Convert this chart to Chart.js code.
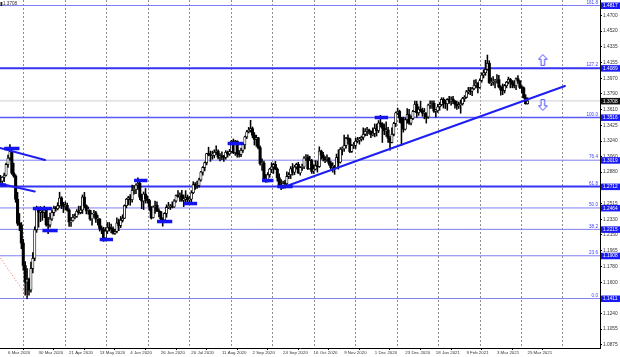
<!DOCTYPE html>
<html><head><meta charset="utf-8">
<script src="https://cdn.jsdelivr.net/npm/chart.js@4.4.1/dist/chart.umd.min.js"></script>
<style>html,body{margin:0;padding:0;background:#fff;overflow:hidden}</style>
</head><body>
<canvas id="c" width="620" height="357" style="display:block;width:620px;height:357px"></canvas>
<script>
// ---- daily GBPUSD candles, 2 Mar 2020 .. 25 Mar 2021 (bar index 0..276) ----
const openP = [
1.2820,1.2775,1.2820,1.2845,1.2970,1.3045,1.3120,1.2870,1.2835,1.2565,1.2285,1.2265,1.2055,1.1795,1.1600,1.1635,1.1510,1.1760,1.1880,1.2210,1.2460,1.2415,
1.2420,1.2410,1.2440,1.2270,1.2265,1.2335,1.2410,1.2460,1.2455,1.2490,1.2580,1.2505,1.2480,1.2495,1.2440,1.2300,1.2315,1.2355,1.2365,1.2425,1.2410,1.2440,
1.2590,1.2490,1.2435,1.2435,1.2335,1.2395,1.2405,1.2335,1.2335,1.2225,1.2210,1.2115,1.2195,1.2240,1.2225,1.2220,1.2170,1.2190,1.2290,1.2260,1.2320,
1.2345,1.2490,1.2565,1.2585,1.2560,1.2670,1.2675,1.2730,1.2750,1.2590,1.2545,1.2625,1.2570,1.2550,1.2475,1.2350,1.2475,1.2495,1.2430,1.2420,1.2335,1.2325,
1.2400,1.2470,1.2475,1.2485,1.2475,1.2545,1.2610,1.2595,1.2615,1.2555,1.2565,1.2585,1.2560,1.2565,1.2640,1.2735,1.2725,1.2725,1.2790,1.2880,1.2935,1.2990,1.3095,
1.3085,1.3075,1.3075,1.3110,1.3125,1.3055,1.3070,1.3055,1.3050,1.3110,1.3090,1.3120,1.3240,1.3105,1.3240,1.3090,1.3085,1.3135,1.3200,1.3290,1.3350,
1.3370,1.3385,1.3310,1.3260,1.3280,1.3165,1.2980,1.2985,1.2795,1.2795,1.2850,1.2915,1.2940,1.2970,1.2915,1.2815,1.2730,1.2725,1.2750,1.2745,1.2830,1.2850,
1.2920,1.2880,1.2940,1.2970,1.2870,1.2935,1.2940,1.3045,1.3055,1.2920,1.3015,1.2890,1.2915,1.2955,1.2945,1.3125,1.3080,1.3045,1.3025,1.3045,1.2985,1.2935,
1.2945,1.2930,1.3050,1.2995,1.3145,1.3150,1.3190,1.3275,1.3265,1.3120,1.3190,1.3190,1.3240,1.3255,1.3265,1.3285,1.3320,1.3355,1.3370,1.3355,1.3315,
1.3330,1.3390,1.3365,1.3450,1.3440,1.3390,1.3360,1.3370,1.3275,1.3225,1.3320,1.3445,1.3570,1.3585,1.3510,1.3450,1.3380,1.3490,1.3550,1.3450,1.3505,1.3585,
1.3670,1.3570,1.3610,1.3595,1.3565,1.3565,1.3520,1.3660,1.3665,1.3680,1.3590,1.3595,1.3640,1.3665,1.3725,1.3685,1.3675,1.3725,1.3705,1.3730,
1.3705,1.3670,1.3650,1.3665,1.3675,1.3735,1.3750,1.3815,1.3825,1.3820,1.3850,1.3890,1.3915,1.3865,1.3945,1.4010,1.4035,1.4075,1.4145,1.3920,
1.3925,1.3935,1.3945,1.3955,1.3870,1.3835,1.3830,1.3885,1.3925,1.3960,1.3930,1.3900,1.3885,1.3965,1.3940,1.3865,1.3860,1.3745,1.3675];
const highP = [
1.2842,1.2829,1.2868,1.2986,1.3079,1.3201,1.3146,1.2985,1.2850,1.2645,1.2400,1.2295,1.2100,1.1840,1.1760,1.1650,1.1835,1.1945,1.2245,1.2485,1.2475,1.2480,
1.2440,1.2485,1.2445,1.2355,1.2405,1.2435,1.2485,1.2480,1.2525,1.2647,1.2595,1.2530,1.2535,1.2520,1.2455,1.2355,1.2390,1.2395,1.2445,1.2485,1.2485,1.2615,
1.2645,1.2500,1.2475,1.2440,1.2400,1.2435,1.2425,1.2380,1.2340,1.2255,1.2240,1.2235,1.2295,1.2295,1.2275,1.2245,1.2215,1.2350,1.2335,1.2365,1.2385,
1.2500,1.2575,1.2600,1.2620,1.2730,1.2725,1.2745,1.2813,1.2765,1.2625,1.2650,1.2690,1.2605,1.2565,1.2480,1.2485,1.2545,1.2535,1.2455,1.2425,1.2350,1.2410,
1.2500,1.2530,1.2505,1.2535,1.2560,1.2615,1.2665,1.2640,1.2670,1.2615,1.2665,1.2615,1.2600,1.2665,1.2770,1.2760,1.2775,1.2810,1.2890,1.2945,1.3000,1.3100,1.3170,
1.3125,1.3125,1.3140,1.3185,1.3140,1.3095,1.3115,1.3075,1.3130,1.3125,1.3145,1.3250,1.3265,1.3250,1.3245,1.3130,1.3160,1.3220,1.3300,1.3365,1.3400,
1.3482,1.3405,1.3340,1.3310,1.3285,1.3185,1.3035,1.3010,1.2855,1.2875,1.2925,1.2990,1.2985,1.3005,1.2930,1.2860,1.2795,1.2775,1.2785,1.2885,1.2875,1.2945,
1.2980,1.2960,1.2985,1.2995,1.2945,1.2975,1.3060,1.3085,1.3080,1.3065,1.3030,1.2965,1.3015,1.3010,1.3175,1.3135,1.3110,1.3060,1.3080,1.3050,1.3005,1.2990,
1.2960,1.3090,1.3140,1.3165,1.3175,1.3310,1.3285,1.3315,1.3275,1.3200,1.3225,1.3275,1.3285,1.3285,1.3300,1.3395,1.3385,1.3400,1.3380,1.3360,1.3395,
1.3440,1.3440,1.3480,1.3540,1.3455,1.3440,1.3465,1.3400,1.3295,1.3395,1.3460,1.3580,1.3625,1.3600,1.3515,1.3520,1.3510,1.3620,1.3610,1.3535,1.3600,1.3705,
1.3705,1.3640,1.3705,1.3625,1.3620,1.3570,1.3670,1.3710,1.3710,1.3710,1.3610,1.3670,1.3690,1.3745,1.3745,1.3720,1.3735,1.3760,1.3755,1.3760,
1.3715,1.3705,1.3695,1.3720,1.3750,1.3770,1.3830,1.3865,1.3865,1.3865,1.3950,1.3955,1.3920,1.3965,1.4035,1.4070,1.4180,1.4241,1.4175,1.3975,
1.3990,1.3960,1.4015,1.4005,1.3885,1.3905,1.3900,1.3935,1.3985,1.3970,1.3945,1.3945,1.3975,1.4002,1.3945,1.3885,1.3870,1.3780,1.3745];
const lowP = [
1.2727,1.2725,1.2770,1.2836,1.2935,1.3020,1.2855,1.2820,1.2530,1.2260,1.2200,1.1990,1.1740,1.1450,1.1409,1.1450,1.1485,1.1710,1.1850,1.2180,1.2240,1.2305,
1.2320,1.2350,1.2253,1.2165,1.2240,1.2320,1.2375,1.2425,1.2440,1.2470,1.2455,1.2410,1.2440,1.2425,1.2250,1.2250,1.2310,1.2335,1.2355,1.2390,1.2395,1.2400,
1.2465,1.2395,1.2390,1.2320,1.2265,1.2355,1.2295,1.2265,1.2195,1.2165,1.2075,1.2080,1.2165,1.2195,1.2175,1.2160,1.2155,1.2175,1.2200,1.2235,1.2300,
1.2340,1.2465,1.2500,1.2495,1.2530,1.2625,1.2630,1.2680,1.2560,1.2455,1.2445,1.2520,1.2520,1.2435,1.2335,1.2345,1.2400,1.2420,1.2360,1.2310,1.2252,1.2310,
1.2355,1.2455,1.2445,1.2465,1.2470,1.2530,1.2585,1.2540,1.2540,1.2480,1.2525,1.2520,1.2510,1.2535,1.2630,1.2680,1.2690,1.2705,1.2775,1.2845,1.2895,1.2965,1.3070,
1.3005,1.3030,1.3045,1.3085,1.3035,1.3010,1.3025,1.3005,1.3030,1.3055,1.3075,1.3110,1.3095,1.3075,1.3055,1.3055,1.3060,1.3110,1.3150,1.3270,1.3335,
1.3345,1.3280,1.3195,1.3180,1.3150,1.2960,1.2900,1.2770,1.2760,1.2765,1.2820,1.2875,1.2865,1.2910,1.2775,1.2705,1.2676,1.2690,1.2695,1.2730,1.2805,1.2805,
1.2845,1.2850,1.2915,1.2865,1.2845,1.2900,1.2920,1.3015,1.2910,1.2915,1.2865,1.2865,1.2905,1.2880,1.2935,1.3030,1.3010,1.2990,1.3005,1.2960,1.2915,1.2880,
1.2855,1.2925,1.2915,1.2985,1.3080,1.3120,1.3160,1.3205,1.3105,1.3110,1.3155,1.3155,1.3220,1.3205,1.3240,1.3255,1.3300,1.3305,1.3325,1.3280,1.3300,
1.3290,1.3300,1.3340,1.3405,1.3225,1.3315,1.3295,1.3225,1.3135,1.3220,1.3300,1.3410,1.3550,1.3455,1.3190,1.3345,1.3370,1.3450,1.3435,1.3430,1.3490,1.3580,
1.3520,1.3540,1.3580,1.3530,1.3500,1.3450,1.3505,1.3620,1.3620,1.3575,1.3520,1.3575,1.3600,1.3650,1.3625,1.3620,1.3600,1.3680,1.3660,1.3675,
1.3625,1.3610,1.3620,1.3565,1.3660,1.3700,1.3740,1.3790,1.3780,1.3770,1.3840,1.3860,1.3800,1.3855,1.3925,1.3975,1.4005,1.4065,1.3910,1.3885,
1.3890,1.3860,1.3915,1.3860,1.3775,1.3780,1.3800,1.3860,1.3905,1.3860,1.3860,1.3860,1.3840,1.3910,1.3850,1.3805,1.3740,1.3670,1.3670];
const closeP = [
1.2775,1.2820,1.2845,1.2970,1.3045,1.3120,1.2870,1.2835,1.2565,1.2285,1.2265,1.2055,1.1795,1.1600,1.1635,1.1510,1.1760,1.1880,1.2210,1.2460,1.2415,1.2420,
1.2410,1.2440,1.2270,1.2265,1.2335,1.2410,1.2460,1.2455,1.2490,1.2580,1.2505,1.2480,1.2495,1.2440,1.2300,1.2315,1.2355,1.2365,1.2425,1.2410,1.2440,1.2590,
1.2490,1.2435,1.2435,1.2335,1.2395,1.2405,1.2335,1.2335,1.2225,1.2210,1.2115,1.2195,1.2240,1.2225,1.2220,1.2170,1.2190,1.2290,1.2260,1.2320,1.2345,
1.2490,1.2565,1.2585,1.2560,1.2670,1.2675,1.2730,1.2750,1.2590,1.2545,1.2625,1.2570,1.2550,1.2475,1.2350,1.2475,1.2495,1.2430,1.2420,1.2335,1.2325,1.2400,
1.2470,1.2475,1.2485,1.2475,1.2545,1.2610,1.2595,1.2615,1.2555,1.2565,1.2585,1.2560,1.2565,1.2640,1.2735,1.2725,1.2725,1.2790,1.2880,1.2935,1.2990,1.3095,1.3085,
1.3075,1.3075,1.3110,1.3125,1.3055,1.3070,1.3055,1.3050,1.3110,1.3090,1.3120,1.3240,1.3105,1.3240,1.3090,1.3085,1.3135,1.3200,1.3290,1.3350,1.3370,
1.3385,1.3310,1.3260,1.3280,1.3165,1.2980,1.2985,1.2795,1.2795,1.2850,1.2915,1.2940,1.2970,1.2915,1.2815,1.2730,1.2725,1.2750,1.2745,1.2830,1.2850,1.2920,
1.2880,1.2940,1.2970,1.2870,1.2935,1.2940,1.3045,1.3055,1.2920,1.3015,1.2890,1.2915,1.2955,1.2945,1.3125,1.3080,1.3045,1.3025,1.3045,1.2985,1.2935,1.2945,
1.2930,1.3050,1.2995,1.3145,1.3150,1.3190,1.3275,1.3265,1.3120,1.3190,1.3190,1.3240,1.3255,1.3265,1.3285,1.3320,1.3355,1.3370,1.3355,1.3315,1.3330,
1.3390,1.3365,1.3450,1.3440,1.3390,1.3360,1.3370,1.3275,1.3225,1.3320,1.3445,1.3570,1.3585,1.3510,1.3450,1.3380,1.3490,1.3550,1.3450,1.3505,1.3585,1.3670,
1.3570,1.3610,1.3595,1.3565,1.3565,1.3520,1.3660,1.3665,1.3680,1.3590,1.3595,1.3640,1.3665,1.3725,1.3685,1.3675,1.3725,1.3705,1.3730,1.3705,
1.3670,1.3650,1.3665,1.3675,1.3735,1.3750,1.3815,1.3825,1.3820,1.3850,1.3890,1.3915,1.3865,1.3945,1.4010,1.4035,1.4075,1.4145,1.3920,1.3925,
1.3935,1.3945,1.3955,1.3870,1.3835,1.3830,1.3885,1.3925,1.3960,1.3930,1.3900,1.3885,1.3965,1.3940,1.3865,1.3860,1.3745,1.3675,1.3708];

// ---- axis ticks ----
const dateTickIndex = [4,20,36,52,68,84,100,116,132,148,164,180,196,212,228,244,260,276];
const dateTickLabels = ['6 Mar 2020','30 Mar 2020','21 Apr 2020','13 May 2020','4 Jun 2020','26 Jun 2020','20 Jul 2020','11 Aug 2020','2 Sep 2020','24 Sep 2020','16 Oct 2020','9 Nov 2020','1 Dec 2020','23 Dec 2020','18 Jan 2021','9 Feb 2021','3 Mar 2021','25 Mar 2021'];
const priceTicks = [1.4700,1.4520,1.4335,1.4155,1.3970,1.3790,1.3610,1.3425,1.3240,1.3060,1.2880,1.2695,1.2515,1.2330,1.2150,1.1965,1.1780,1.1600,1.1415,1.1240,1.1055,1.0875];

// ---- Fibonacci levels ----
const fibNames  = ['161.8','127.2','100.0','76.4','61.8','50.0','38.2','23.6','0.0'];
const fibLevels = [1.4817,1.4089,1.3516,1.3019,1.2712,1.2464,1.2215,1.1908,1.1411];
const currentPrice = 1.3708;

// ---- drawn objects (bar index / price) ----
const labelBoxFrom  = [2,0,17,22,52,70,82,96,119,137,145,196];
const labelBoxTo    = [10,3,27,30,59,77,90,103,127,143,153,203];
const labelBoxPrice = [1.3155,1.2730,1.2457,1.2201,1.2097,1.2783,1.2306,1.2515,1.3213,1.2783,1.2713,1.3515];
const trendFrom      = [147,-0.2,0];
const trendFromPrice = [1.2696,1.3160,1.2745];
const trendTo        = [295.6,23.4,18];
const trendToPrice   = [1.3881,1.3021,1.2655];
const dottedFrom = [0, 1.1882];
const dottedTo   = [14.5, 1.1417];
const arrowIndex = [284,284];
const arrowPrice = [1.4183,1.3660];

// ---- layout constants ----
const X_MIN = -0.19, X_MAX = 313.95, Y_MIN = 1.0836, Y_MAX = 1.4881;
const gridIdx = [1.4,23.1,44.8,66.5,88.3,110,131.7,153.4,175.1,196.8,218.6,240.3,262,283.7];

function arrowCanvas(up){
  const c = document.createElement('canvas'); c.width = 10; c.height = 12;
  const g = c.getContext('2d');
  g.translate(0, up ? 0 : 12); g.scale(1, up ? 1 : -1);
  g.beginPath();
  g.moveTo(5,0.6); g.lineTo(9.4,5.2); g.lineTo(6.8,5.2); g.lineTo(6.8,11.4);
  g.lineTo(3.2,11.4); g.lineTo(3.2,5.2); g.lineTo(0.6,5.2); g.closePath();
  g.fillStyle = '#fff'; g.fill(); g.strokeStyle = '#4a4aff'; g.lineWidth = 1; g.stroke();
  return c;
}
function noPad(s){ s.paddingTop = 0; s.paddingBottom = 0; s.paddingLeft = 0; s.paddingRight = 0; }

const idx = closeP.map((_, i) => i);
const isBull = i => closeP[i] >= openP[i];
const BLUE = '#1414f0';

const datasets = [];
fibLevels.forEach((v, i) => {
  const strong = fibNames[i] === '127.2' || fibNames[i] === '61.8';
  const mid = fibNames[i] === '100.0';
  datasets.push({type:'line', xAxisID:'x', yAxisID:'y', order:20,
    data:[{x:X_MIN,y:v},{x:X_MAX,y:v}], borderColor: strong ? '#3434f5' : (mid ? '#5a5af5' : '#7e7ef2'),
    borderWidth: strong ? 2 : (mid ? 1.5 : 1), pointRadius:0, tension:0});
});
datasets.push({type:'line', xAxisID:'x', yAxisID:'y', order:21,
  data:[{x:X_MIN,y:currentPrice},{x:X_MAX,y:currentPrice}], borderColor:'#cfcfcf', borderWidth:1, pointRadius:0});
datasets.push({type:'bar', xAxisID:'x', yAxisID:'y', order:6, grouped:false,
  data: idx.map(i => ({x:i, y:[lowP[i], highP[i]]})), backgroundColor:'#000', barThickness:0.9, borderWidth:0, borderSkipped:false});
datasets.push({type:'bar', xAxisID:'x', yAxisID:'y', order:5, grouped:false, minBarLength:1,
  data: idx.map(i => ({x:i, y:[openP[i], closeP[i]]})),
  backgroundColor: idx.map(i => isBull(i) ? '#ffffff' : '#000000'),
  borderColor:'#000', borderWidth: idx.map(i => isBull(i) ? 0.8 : 0), borderSkipped:false, barThickness:2.4});
trendFrom.forEach((f, i) => {
  datasets.push({type:'line', xAxisID:'x', yAxisID:'y', order:3,
    data:[{x:f,y:trendFromPrice[i]},{x:trendTo[i],y:trendToPrice[i]}], borderColor:'#1e1ef5', borderWidth:2, pointRadius:0, borderCapStyle:'round'});
});
datasets.push({type:'line', xAxisID:'x', yAxisID:'y', order:3,
  data:[{x:dottedFrom[0],y:dottedFrom[1]},{x:dottedTo[0],y:dottedTo[1]}], borderColor:'#f07070', borderWidth:1, borderDash:[1,2], pointRadius:0});
labelBoxFrom.forEach((f, i) => {
  datasets.push({type:'line', xAxisID:'x', yAxisID:'y', order:2,
    data:[{x:f,y:labelBoxPrice[i]},{x:labelBoxTo[i],y:labelBoxPrice[i]}], borderColor:BLUE, borderWidth:3.5, borderCapStyle:'butt', pointRadius:0});
});
datasets.push({type:'scatter', xAxisID:'x', yAxisID:'y', order:1,
  data: arrowIndex.map((a, i) => ({x:a, y:arrowPrice[i]})),
  pointStyle:[arrowCanvas(true), arrowCanvas(false)], pointRadius:5});

const overlay = {
  id:'overlay',
  afterDatasetsDraw(chart){
    const {ctx, chartArea:a, scales:{y}} = chart;
    ctx.save();
    ctx.font = '4.6px "Liberation Sans"';
    ctx.fillStyle = '#3c3cff'; ctx.textAlign = 'right'; ctx.textBaseline = 'bottom';
    fibLevels.forEach((v, i) => ctx.fillText(fibNames[i], a.right - 2, y.getPixelForValue(v) - 0.8));
    ctx.fillStyle = '#333'; ctx.textAlign = 'left'; ctx.textBaseline = 'middle';
    ctx.fillText(currentPrice.toFixed(4), a.left + 3, a.top + 4);
    ctx.fillStyle = '#222'; ctx.fillRect(a.left + 0.5, a.top + 2, 1.8, 4);
    ctx.restore();
  },
  afterDraw(chart){
    const {ctx, chartArea:a, scales:{y}} = chart;
    ctx.save();
    ctx.font = '4.8px "Liberation Sans"'; ctx.textAlign = 'left'; ctx.textBaseline = 'middle';
    fibLevels.forEach(v => {
      const py = y.getPixelForValue(v);
      ctx.fillStyle = '#1a1af5'; ctx.fillRect(a.right + 1, py - 3, 19, 6.5);
      ctx.fillStyle = '#fff'; ctx.fillText(v.toFixed(4), a.right + 3, py + 0.3);
    });
    const cp = y.getPixelForValue(currentPrice);
    ctx.fillStyle = '#111'; ctx.fillRect(a.right + 1, cp - 3, 19, 6.5);
    ctx.fillStyle = '#fff'; ctx.fillText(currentPrice.toFixed(4), a.right + 3, cp + 0.3);
    ctx.restore();
  }
};

new Chart(document.getElementById('c'), {
  type:'bar',
  data:{datasets},
  plugins:[overlay],
  options:{
    responsive:false, animation:false, devicePixelRatio:1, events:[],
    layout:{padding:0, autoPadding:false},
    plugins:{legend:{display:false}, tooltip:{enabled:false}},
    scales:{
      x:{type:'linear', min:X_MIN, max:X_MAX, offset:false, position:'bottom',
        afterBuildTicks: s => { s.ticks = dateTickIndex.map(v => ({value:v})); },
        afterFit: s => { s.height = 9; noPad(s); },
        grid:{drawOnChartArea:false, drawTicks:true, tickLength:2, color:'#000'},
        border:{display:true, color:'#000', width:1},
        ticks:{autoSkip:false, maxRotation:0, minRotation:0, align:'start', padding:0,
          font:{family:'Liberation Sans', size:4.4}, color:'#333', callback:(v, i) => dateTickLabels[i]}
      },
      xg:{type:'linear', min:X_MIN, max:X_MAX, offset:false, position:'bottom',
        afterBuildTicks: s => { s.ticks = gridIdx.map(v => ({value:v})); },
        afterFit: s => { s.height = 0; noPad(s); },
        ticks:{display:false},
        grid:{drawOnChartArea:true, drawTicks:false, color:'#8c8c8c', lineWidth:1},
        border:{display:false, dash:[2,2]}
      },
      y:{type:'linear', position:'right', min:Y_MIN, max:Y_MAX,
        afterBuildTicks: s => { s.ticks = priceTicks.map(v => ({value:v})); },
        afterFit: s => { s.width = 20; noPad(s); },
        grid:{drawOnChartArea:false, drawTicks:true, tickLength:2, color:'#000'},
        border:{display:true, color:'#000', width:1},
        ticks:{padding:1, font:{family:'Liberation Sans', size:4.8}, color:'#333', callback:v => v.toFixed(4)}
      }
    }
  }
});
</script>
</body></html>
